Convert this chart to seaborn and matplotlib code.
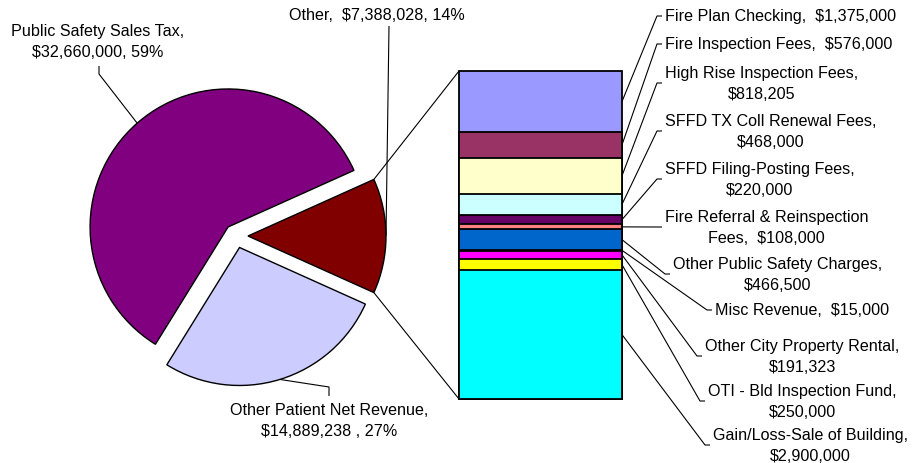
import numpy as np
import pandas as pd
import seaborn as sns
import matplotlib.pyplot as plt

# pie slices (drawn counter-clockwise starting with "Other")
pie_names = ["Other", "Public Safety Sales Tax", "Other Patient Net Revenue"]
pie_values = [7388028, 32660000, 14889238]
pie_colors = ["#800000", "#800080", "#CCCCFF"]
pie_texts = ["Other,  $7,388,028, 14%",
             "Public Safety Sales Tax,\n$32,660,000, 59%",
             "Other Patient Net Revenue,\n$14,889,238 , 27%"]

# breakdown of "Other", top of the bar first
bar_names = ["Fire Plan Checking", "Fire Inspection Fees", "High Rise Inspection Fees",
             "SFFD TX Coll Renewal Fees", "SFFD Filing-Posting Fees",
             "Fire Referral & Reinspection Fees", "Other Public Safety Charges",
             "Misc Revenue", "Other City Property Rental", "OTI - Bld Inspection Fund",
             "Gain/Loss-Sale of Building"]
bar_values = [1375000, 576000, 818205, 468000, 220000, 108000, 466500,
              15000, 191323, 250000, 2900000]
bar_colors = ["#9999FF", "#993366", "#FFFFCC", "#CCFFFF", "#660066", "#FF8080",
              "#0066CC", "#000080", "#FF00FF", "#FFFF00", "#00FFFF"]
bar_texts = ["Fire Plan Checking,  $1,375,000",
             "Fire Inspection Fees,  $576,000",
             "High Rise Inspection Fees,\n$818,205",
             "SFFD TX Coll Renewal Fees,\n$468,000",
             "SFFD Filing-Posting Fees,\n$220,000",
             "Fire Referral & Reinspection\nFees,  $108,000",
             "Other Public Safety Charges,\n$466,500",
             "Misc Revenue,  $15,000",
             "Other City Property Rental,\n$191,323",
             "OTI - Bld Inspection Fund,\n$250,000",
             "Gain/Loss-Sale of Building,\n$2,900,000"]

# label layout in pixels (x, y from top)
bar_label_pos = [(665, 17), (665, 45), (665, 84), (665, 132), (665, 180), (665, 228),
                 (673, 275), (715, 311), (705, 357), (708, 402), (713, 446)]
pie_label_pos = [(377, 16), (98, 42), (329, 421)]
pie_leader_knees = [[(389, 27)], [(99, 75), (99, 67)], [(329, 388), (329, 397)]]

sns.set_theme(style="white")
plt.rcParams["font.family"] = ["Liberation Sans", "DejaVu Sans"]
FS = 11.6
LS = 1.45

W, H = 913, 464
fig = plt.figure(figsize=(W / 100, H / 100), dpi=100)

# pie, centre (236, 237) px, radius 138 px
R = 138
cx, cy = 236, 237
half = 1.6
ax_pie = fig.add_axes([(cx - half * R) / W, (H - cy - half * R) / H,
                       2 * half * R / W, 2 * half * R / H])
share_other = pie_values[0] / sum(pie_values)
wedges, _ = ax_pie.pie(pie_values, colors=pie_colors, startangle=-180 * share_other,
                       explode=[12 / R] * 3, counterclock=True,
                       wedgeprops=dict(edgecolor="black", linewidth=1))
ax_pie.set_xlim(-half, half)
ax_pie.set_ylim(-half, half)
ax_pie.set_aspect("equal")
ax_pie.axis("off")

# stacked bar, drawn as overlapping cumulative bars
ax_bar = fig.add_axes([459 / W, (H - 400) / H, 163 / W, 328 / H])
bar_df = pd.DataFrame({"name": bar_names, "value": bar_values, "color": bar_colors})
bar_df["top"] = bar_df["value"][::-1].cumsum()
bar_df["mid"] = bar_df["top"] - bar_df["value"] / 2
total = bar_df["value"].sum()
for _, row in bar_df.iterrows():
    sns.barplot(x=["Other"], y=[row["top"]], color=row["color"], saturation=1,
                width=1, edgecolor="black", linewidth=1.3, ax=ax_bar)
ax_bar.set_xlim(-0.5, 0.5)
ax_bar.set_ylim(0, total)
ax_bar.axis("off")
for p in ax_bar.patches:
    p.set_clip_on(False)

# overlay in pixel coords for labels and leader lines
ov = fig.add_axes([0, 0, 1, 1])
ov.set_xlim(0, W)
ov.set_ylim(H, 0)
ov.axis("off")


def to_px(ax, x, y):
    return ov.transData.inverted().transform(ax.transData.transform((x, y)))


def arc_point(w, ang):
    a = np.radians(ang)
    return w.center[0] + w.r * np.cos(a), w.center[1] + w.r * np.sin(a)


line_kw = dict(color="black", lw=0.8, solid_capstyle="butt")

# connectors from the "Other" slice to the bar
red = wedges[0]
for ang, yb in [(red.theta2, total), (red.theta1, 0)]:
    p = to_px(ax_pie, *arc_point(red, ang))
    b = to_px(ax_bar, -0.5, yb)
    ov.plot([p[0], b[0]], [p[1], b[1]], **line_kw)

# pie labels
for w, txt, pos, knees in zip(wedges, pie_texts, pie_label_pos, pie_leader_knees):
    p = to_px(ax_pie, *arc_point(w, (w.theta1 + w.theta2) / 2))
    xs = [p[0]] + [k[0] for k in knees]
    ys = [p[1]] + [k[1] for k in knees]
    ov.plot(xs, ys, **line_kw)
    ov.text(pos[0], pos[1], txt, ha="center", va="center", multialignment="center",
            fontsize=FS, linespacing=LS, color="black")

# bar labels
for (_, row), txt, pos in zip(bar_df.iterrows(), bar_texts, bar_label_pos):
    s = to_px(ax_bar, 0.5, row["mid"])
    ov.plot([s[0], pos[0] - 8, pos[0] - 3], [s[1], pos[1], pos[1]], **line_kw)
    ov.text(pos[0], pos[1], txt, ha="left", va="center", multialignment="center",
            fontsize=FS, linespacing=LS, color="black")

fig.savefig("out.png", dpi=100)
